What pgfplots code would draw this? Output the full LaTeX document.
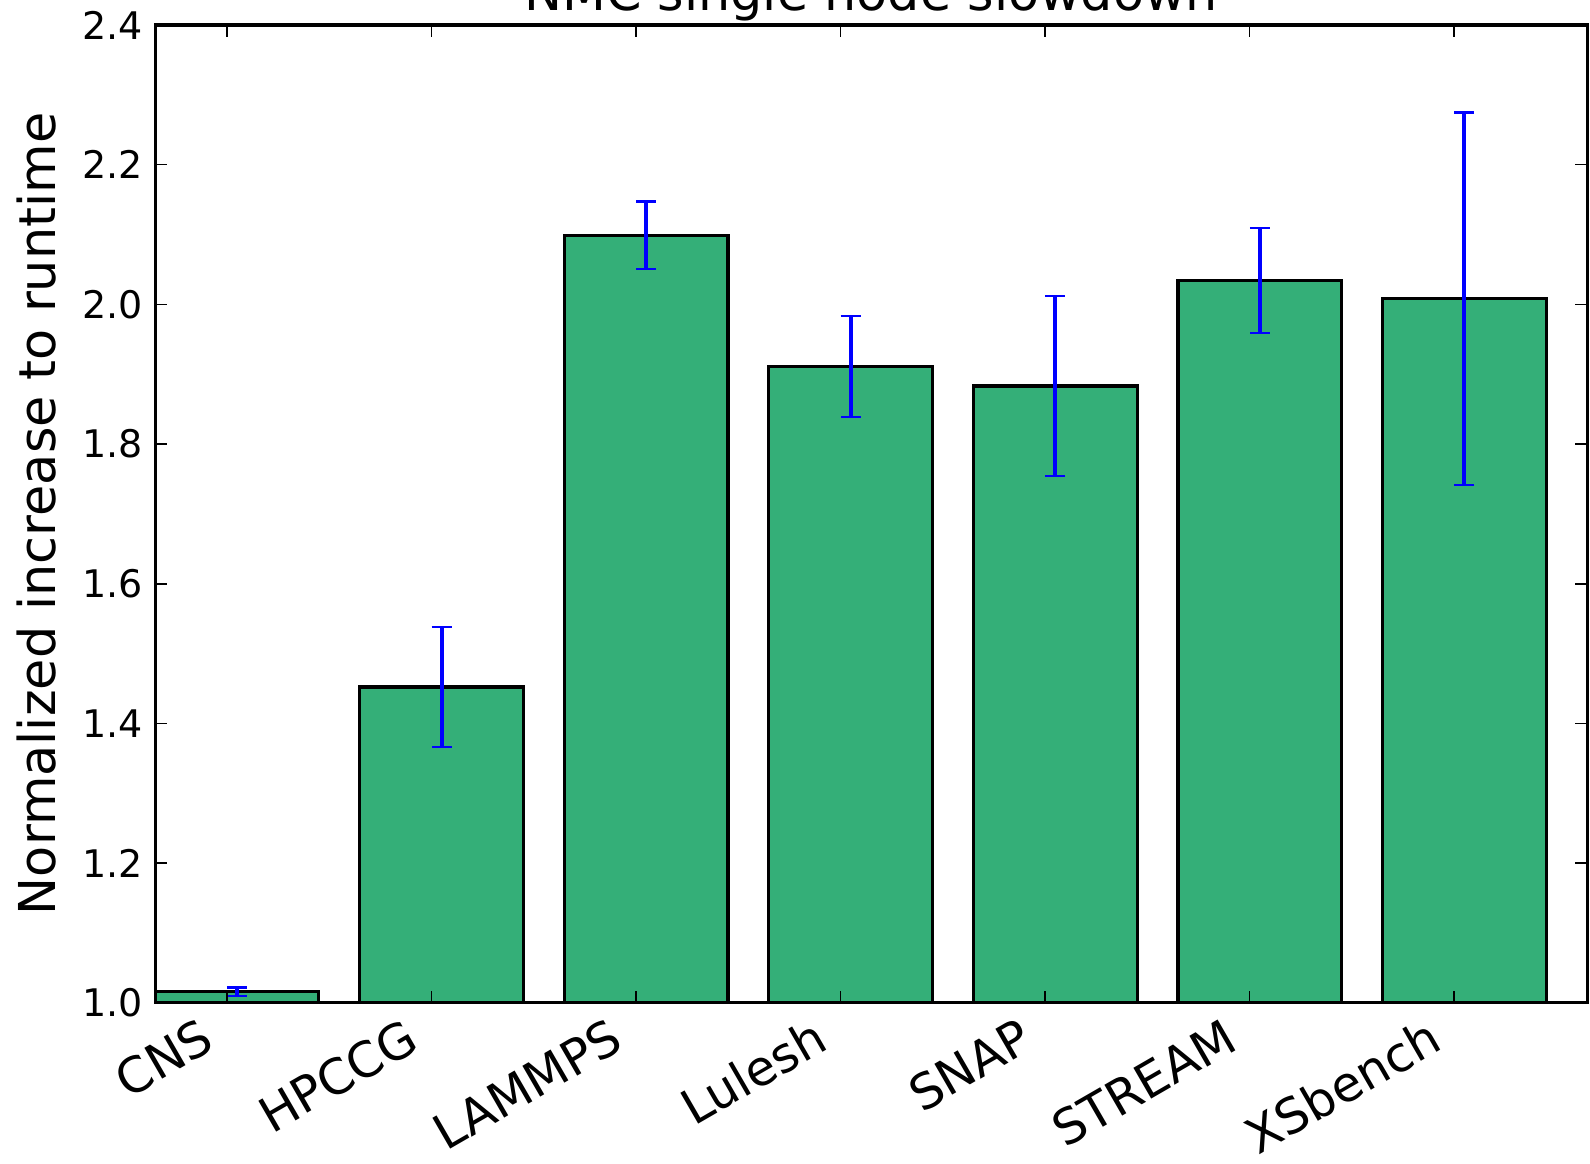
\documentclass[border=0pt]{standalone}
\usepackage{fontspec}
\setmainfont{DejaVu Sans}
\usepackage{pgfplots}
\pgfplotsset{compat=1.18}
\definecolor{bargreen}{RGB}{52,175,120}
\begin{document}
\begin{tikzpicture}
\begin{axis}[
  scale only axis,
  width=357.75pt, height=244.25pt,
  xmin=0, xmax=7, ymin=1.0, ymax=2.4,
  axis on top,
  axis line style={line width=0.8pt},
  major tick style={line width=0.4pt, black},
  major tick length=3pt,
  tick align=inside,
  xtick={0.35,1.35,2.35,3.35,4.35,5.35,6.35},
  xticklabels={CNS,HPCCG,LAMMPS,Lulesh,SNAP,STREAM,XSbench},
  xticklabel style={font=\fontsize{12.2}{14}\selectfont, inner sep=0pt,
     text height=0.76em, text depth=0.24em,
     xshift=-6.25pt, yshift=-4.5pt, rotate=30, anchor=north east},
  ytick={1.0,1.2,1.4,1.6,1.8,2.0,2.2,2.4},
  yticklabel style={font=\fontsize{9.5}{11}\selectfont, inner sep=0pt, anchor=east, xshift=-2.8pt,
     /pgf/number format/.cd, fixed, fixed zerofill, precision=1, assume math mode=true},
  every axis y label/.style={at={(axis description cs:0,0.5)}, xshift=-25pt, rotate=90, anchor=base,
     font=\fontsize{12.7}{15}\selectfont},
  ylabel={Normalized increase to runtime},
  every axis title/.style={at={(axis description cs:0.5,1)}, yshift=3.5pt, anchor=base,
     font=\fontsize{12.7}{15}\selectfont},
  title={NMC single node slowdown},
]
\addplot[ybar, bar width=0.8, bar shift=0pt, fill=bargreen, draw=black, line width=0.8pt,
  error bars/.cd, y dir=both, y explicit,
  error bar style={line width=1pt, blue},
  error mark options={line width=0.6pt, blue, mark size=2.5pt, rotate=90}]
coordinates {
  (0.4,1.016) +- (0,0.006)
  (1.4,1.452) +- (0,0.086)
  (2.4,2.099) +- (0,0.048)
  (3.4,1.911) +- (0,0.072)
  (4.4,1.883) +- (0,0.129)
  (5.4,2.034) +- (0,0.075)
  (6.4,2.008) +- (0,0.267)
};
\end{axis}
\pgfresetboundingbox
\path[use as bounding box] ([xshift=-38.75pt,yshift=-40.25pt]current axis.south west) rectangle ([xshift=0.7pt,yshift=6.25pt]current axis.north east);
\end{tikzpicture}
\end{document}
